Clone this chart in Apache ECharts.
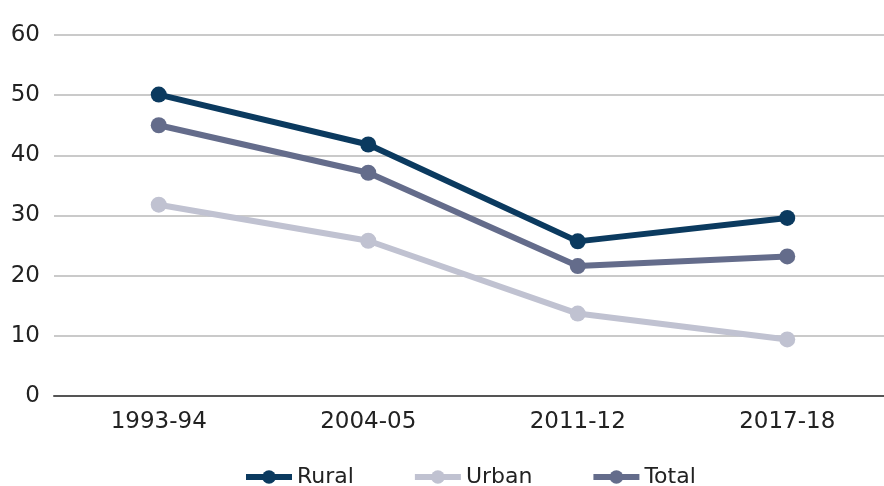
<!DOCTYPE html>
<html>
<head>
<meta charset="utf-8">
<script src="https://cdn.jsdelivr.net/npm/echarts@6/dist/echarts.min.js"></script>
<style>
  html, body { margin: 0; padding: 0; background: #fff; }
  #main { width: 884px; height: 486px; }
</style>
</head>
<body>
<div id="main"></div>
<script>
// categories and values
var years = ['1993-94', '2004-05', '2011-12', '2017-18'];
var rural = [50.1, 41.8, 25.7, 29.6];
var urban = [31.8, 25.8, 13.7, 9.4];
var total = [45.0, 37.1, 21.6, 23.2];

var font = 'DejaVu Sans';

function line(name, data, color) {
  return {
    name: name,
    type: 'line',
    data: data,
    symbol: 'circle',
    symbolSize: 16,
    lineStyle: { color: color, width: 6 },
    itemStyle: { color: color },
    emphasis: { disabled: true }
  };
}

var chart = echarts.init(document.getElementById('main'));
chart.setOption({
  animation: false,
  // plot area runs a little past the right edge of the picture
  grid: { left: 54, width: 838, top: 35, height: 361, outerBoundsMode: 'none' },
  legend: {
    top: 461,
    left: 238,
    itemWidth: 46,
    itemHeight: 17,
    itemGap: 58,
    lineStyle: { width: 6 },
    textStyle: { fontFamily: font, fontSize: 22, color: '#222' },
    data: ['Rural', 'Urban', 'Total']
  },
  xAxis: {
    type: 'category',
    data: years,
    axisTick: { show: false },
    axisLine: { lineStyle: { color: '#555', width: 2 } },
    axisLabel: { fontFamily: font, fontSize: 23, color: '#222', margin: 15 }
  },
  yAxis: {
    type: 'value',
    min: 0,
    max: 60,
    interval: 10,
    axisLabel: { fontFamily: font, fontSize: 23, color: '#222', margin: 14 },
    splitLine: { lineStyle: { color: '#b8b8b8', width: 1.5 } }
  },
  series: [
    line('Rural', rural, '#0b3a5f'),
    line('Urban', urban, '#c0c2d1'),
    line('Total', total, '#646c8b')
  ]
});
</script>
</body>
</html>
